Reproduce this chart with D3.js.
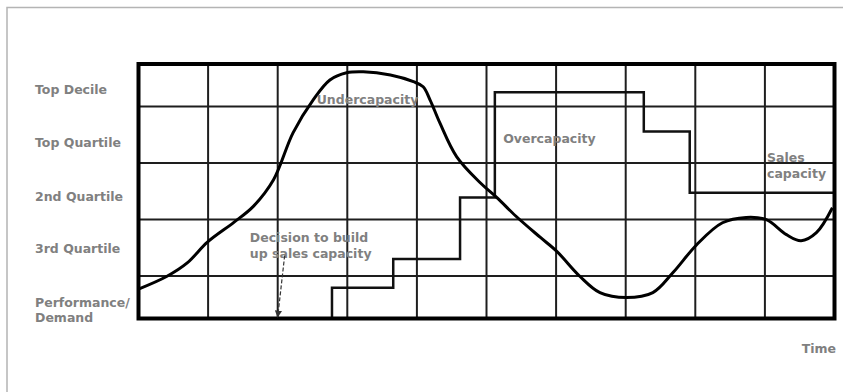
<!DOCTYPE html>
<html>
<head>
<meta charset="utf-8">
<script src="https://cdn.jsdelivr.net/npm/d3@7/dist/d3.min.js"></script>
<style>
  html, body { margin: 0; padding: 0; background: #fff; }
  svg text { font-family: "DejaVu Sans", Verdana, sans-serif; font-weight: bold; font-size: 12.5px; fill: #808080; }
</style>
</head>
<body>
<svg id="chart" width="843" height="392"></svg>
<script>
// ---- data ----
const xGrid = [0, 1, 2, 3, 4, 5, 6, 7, 8, 9, 10];
const yGrid = [0, 3, 7, 11, 15, 18];
const levelLabels = ["Top Decile", "Top Quartile", "2nd Quartile", "3rd Quartile"];
const levelLabelY = [16.2, 12.45, 8.65, 4.95];
const demandLabel = ["Performance/", "Demand"];
const demandLabelY = [1.14, 0.08];

// Performance / demand curve (time, level)
const demandX = [0.0, 0.41, 0.70, 0.99, 1.37, 1.65, 1.94, 2.22, 2.51, 2.75, 2.99, 3.23, 3.62, 3.95, 4.09, 4.19, 4.33, 4.57, 4.91, 5.15, 5.42, 5.77, 6.01, 6.34, 6.63, 7.01, 7.39, 7.68, 8.02, 8.39, 8.73, 9.02, 9.31, 9.52, 9.74, 9.97];
const demandY = [2.08, 2.99, 3.93, 5.40, 6.80, 7.93, 9.81, 13.13, 15.46, 16.87, 17.38, 17.45, 17.22, 16.75, 16.39, 15.45, 13.83, 11.45, 9.60, 8.55, 7.25, 5.75, 4.75, 2.99, 1.83, 1.48, 1.83, 3.25, 5.22, 6.77, 7.15, 6.99, 5.93, 5.50, 6.07, 7.83];

// Sales capacity step line (time where level starts, level)
const capacityX = [2.01, 2.78, 3.66, 4.62, 5.12, 7.26, 7.92, 10];
const capacityY = [0.0, 2.17, 4.21, 8.55, 16.0, 13.22, 8.9, 8.9];

// annotations
const annotations = [
  { lines: ["Undercapacity"], x: 2.56, y: 15.45 },
  { lines: ["Overcapacity"], x: 5.24, y: 12.75 },
  { lines: ["Sales", "capacity"], x: 9.03, y: 11.4 },
  { lines: ["Decision to build", "up sales capacity"], x: 1.60, y: 5.75 }
];
const arrowFrom = { x: 2.10, y: 4.45 };
const arrowTo = { x: 2.00, y: 0.1 };

// ---- drawing ----
const svg = d3.select("#chart");
const x = d3.scaleLinear().domain([0, 10]).range([138.5, 834.5]);
const y = d3.scaleLinear().domain([0, 18]).range([318.5, 64]);

// outer frame
svg.append("rect").attr("x", 7).attr("y", 7.5).attr("width", 900).attr("height", 500)
  .attr("fill", "none").attr("stroke", "#b4b4b4").attr("stroke-width", 1.5);

// inner grid
const g = svg.append("g");
g.selectAll("line.v").data(xGrid.slice(1, -1)).join("line")
  .attr("x1", d => x(d)).attr("x2", d => x(d))
  .attr("y1", y(18)).attr("y2", y(0))
  .attr("stroke", "#1e1e1e").attr("stroke-width", 2);
g.selectAll("line.h").data(yGrid.slice(1, -1)).join("line")
  .attr("x1", x(0)).attr("x2", x(10))
  .attr("y1", d => y(d)).attr("y2", d => y(d))
  .attr("stroke", "#1e1e1e").attr("stroke-width", 2);

// capacity step line
const stepLine = d3.line().x(d => x(d[0])).y(d => y(d[1])).curve(d3.curveStepAfter);
g.append("path").datum(capacityX.map((d, i) => [d, capacityY[i]]))
  .attr("d", stepLine).attr("fill", "none").attr("stroke", "#111").attr("stroke-width", 2.5);

// demand curve
const curve = d3.line().x(d => x(d[0])).y(d => y(d[1])).curve(d3.curveCatmullRom.alpha(0.5));
g.append("path").datum(demandX.map((d, i) => [d, demandY[i]]))
  .attr("d", curve).attr("fill", "none").attr("stroke", "#000").attr("stroke-width", 3);

// border
svg.append("rect").attr("x", x(0)).attr("y", y(18)).attr("width", x(10) - x(0)).attr("height", y(0) - y(18))
  .attr("fill", "none").attr("stroke", "#000").attr("stroke-width", 4);

// level labels
svg.selectAll("text.level").data(levelLabels).join("text")
  .attr("class", "level")
  .attr("x", 35).attr("y", (d, i) => y(levelLabelY[i])).attr("dy", "0.35em")
  .text(d => d);
svg.selectAll("text.demand").data(demandLabel).join("text")
  .attr("class", "demand")
  .attr("x", 35).attr("y", (d, i) => y(demandLabelY[i])).attr("dy", "0.35em")
  .text(d => d);

// annotations
annotations.forEach(a => {
  const t = svg.append("text").attr("x", x(a.x)).attr("y", y(a.y));
  a.lines.forEach((l, i) => t.append("tspan").attr("x", x(a.x)).attr("dy", i === 0 ? "0.35em" : "1.3em").text(l));
});

// arrow
svg.append("defs").append("marker").attr("id", "ah").attr("viewBox", "0 0 10 10")
  .attr("refX", 9).attr("refY", 5).attr("markerWidth", 6).attr("markerHeight", 6).attr("orient", "auto")
  .append("path").attr("d", "M0,0L10,5L0,10z").attr("fill", "#333");
svg.append("line")
  .attr("x1", x(arrowFrom.x)).attr("y1", y(arrowFrom.y))
  .attr("x2", x(arrowTo.x)).attr("y2", y(arrowTo.y))
  .attr("stroke", "#333").attr("stroke-width", 1.2).attr("stroke-dasharray", "4,2")
  .attr("marker-end", "url(#ah)");

// axis title
svg.append("text").attr("x", 836).attr("y", 348.5).attr("dy", "0.35em").attr("text-anchor", "end").text("Time");
</script>
</body>
</html>
